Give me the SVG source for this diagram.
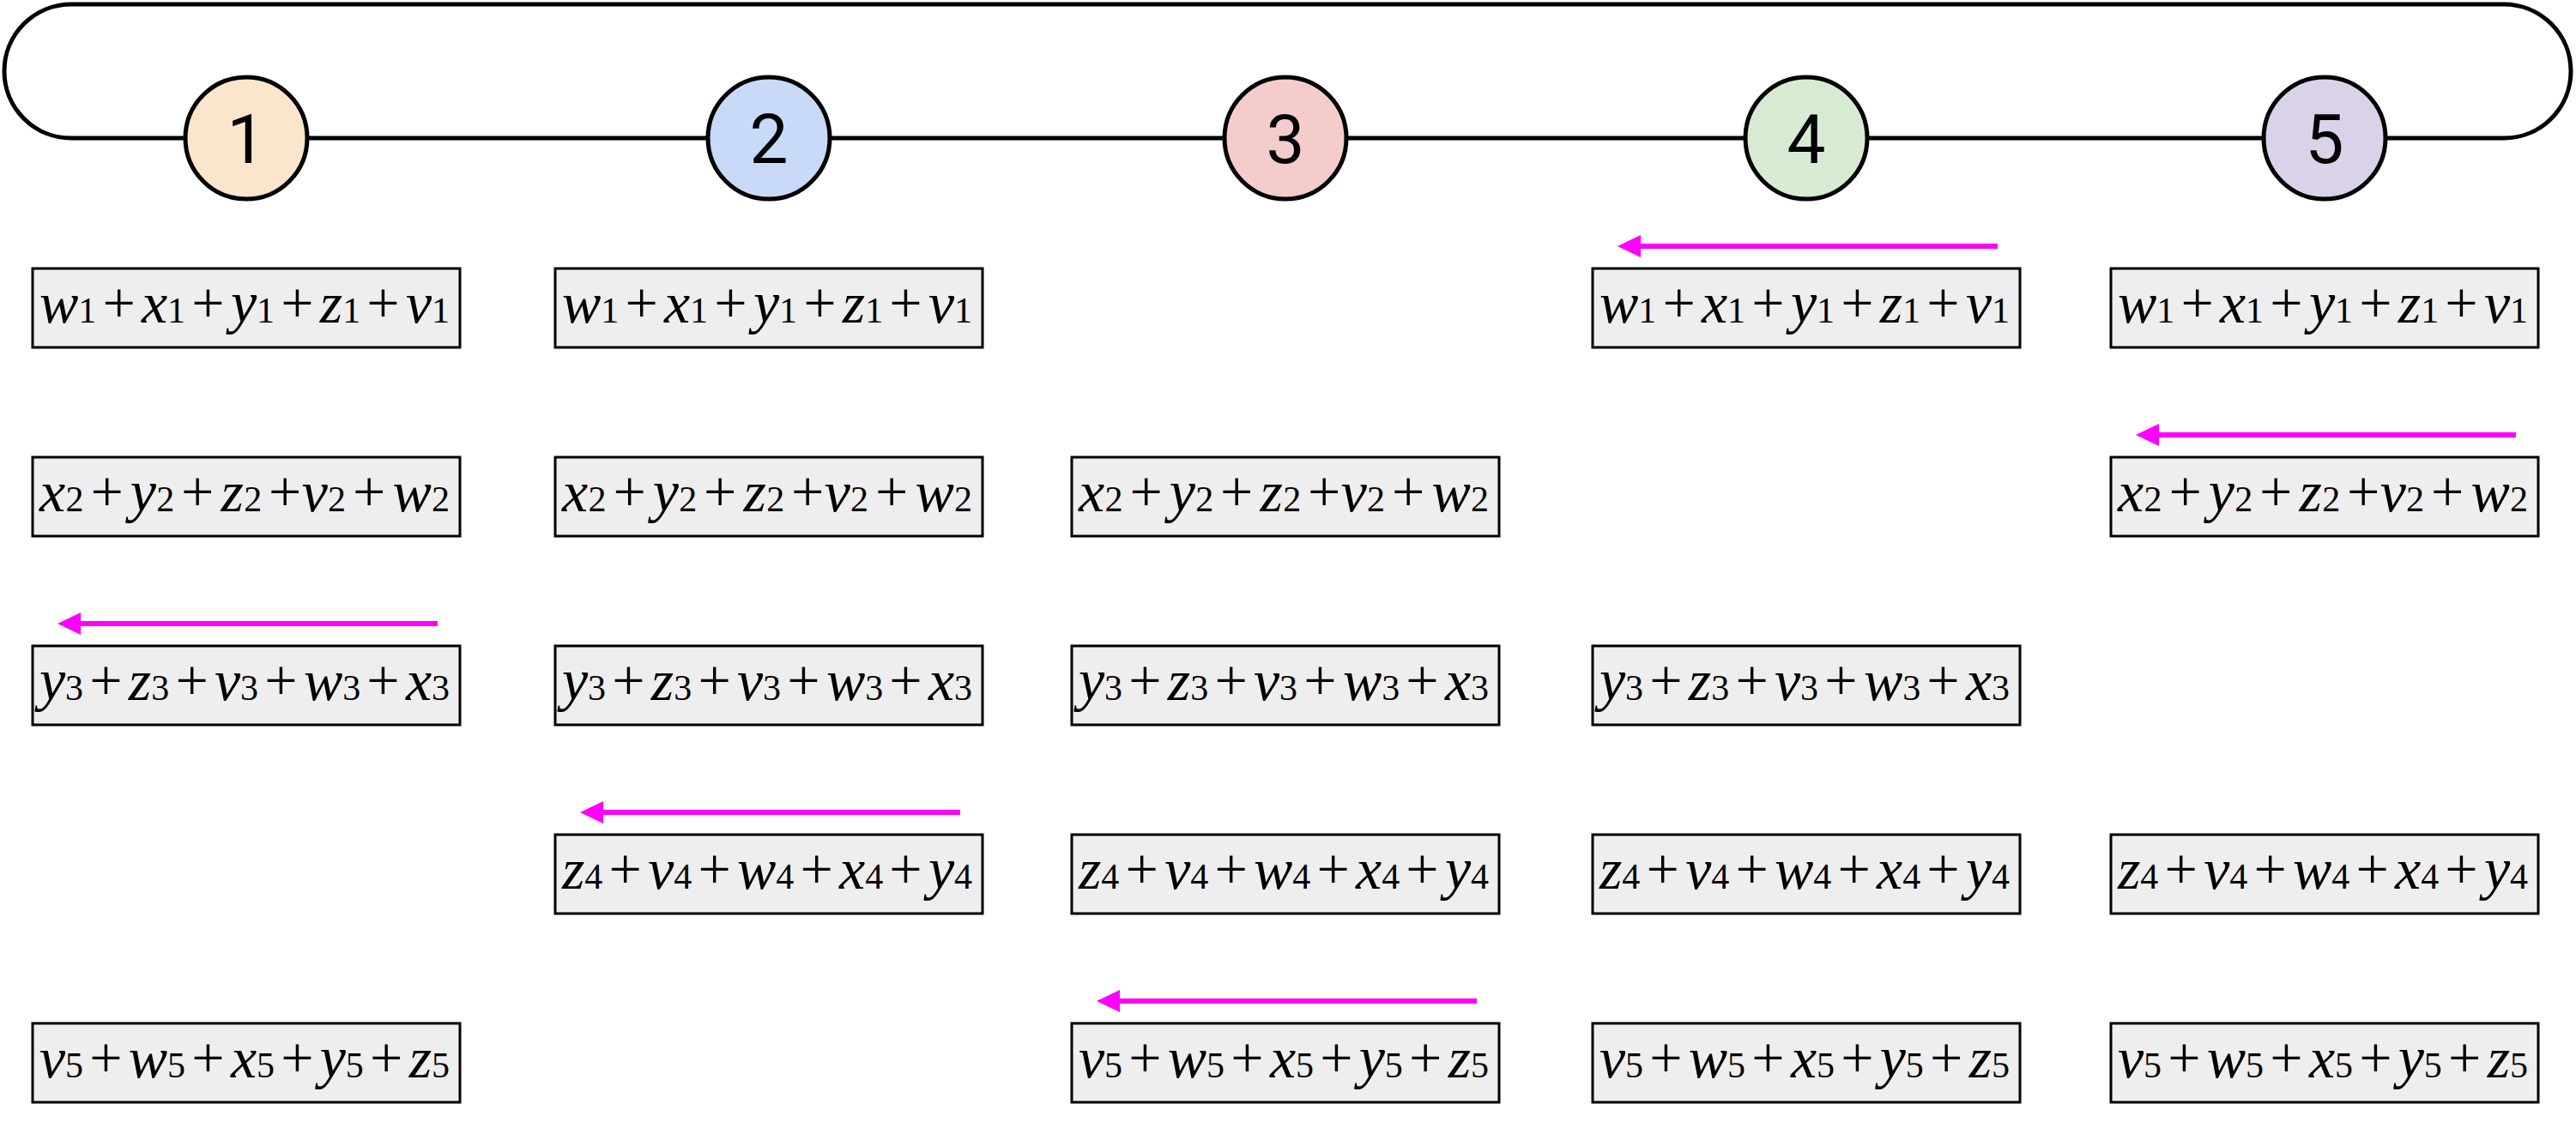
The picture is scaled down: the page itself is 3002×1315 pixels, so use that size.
<svg xmlns="http://www.w3.org/2000/svg" width="3002" height="1315" viewBox="0 0 3002 1315">
<style>
.loop{fill:none;stroke:#000;stroke-width:5}
.node circle{stroke:#000;stroke-width:5}
.node text{font-family:Roboto,"Liberation Sans",sans-serif;font-size:80px;text-anchor:middle;fill:#000}
.box rect{fill:#eeeeee;stroke:#000;stroke-width:3}
.eq{font-family:"Liberation Serif","Times New Roman",serif;font-size:68px;font-style:normal;fill:#000}
.v{font-style:italic}
.s{font-size:42px}
.g{font-size:30px}
.arrow{stroke:#ff00ff;stroke-width:6;fill:none;marker-end:url(#ah)}
</style>
<defs>
<marker id="ah" markerUnits="userSpaceOnUse" markerWidth="28" markerHeight="28" viewBox="0 0 28 28" refX="0" refY="13" orient="auto">
<path d="M0,0 L27,13 L0,26 Z" fill="#ff00ff"/>
</marker>
</defs>
<rect width="3002" height="1315" fill="#fff"/>
<g id="connectors">
<path class="loop" d="M83,5 H2918 A78,78 0 0 1 2918,161 H83 A78,78 0 0 1 83,5 Z"/>
<line class="arrow" x1="2328" y1="287" x2="1912" y2="287"/>
<line class="arrow" x1="2932" y1="507" x2="2516" y2="507"/>
<line class="arrow" x1="510" y1="727" x2="94" y2="727"/>
<line class="arrow" x1="1119" y1="947" x2="703" y2="947"/>
<line class="arrow" x1="1721" y1="1167" x2="1305" y2="1167"/>
</g>
<g id="node1" class="node"><circle cx="287" cy="161" r="71" fill="#fce5cd"/><text x="287" y="190">1</text></g>
<g id="node2" class="node"><circle cx="896" cy="161" r="71" fill="#c9daf8"/><text x="896" y="190">2</text></g>
<g id="node3" class="node"><circle cx="1498" cy="161" r="71" fill="#f4cccc"/><text x="1498" y="190">3</text></g>
<g id="node4" class="node"><circle cx="2105" cy="161" r="71" fill="#d9ead3"/><text x="2105" y="190">4</text></g>
<g id="node5" class="node"><circle cx="2709" cy="161" r="71" fill="#d9d2e9"/><text x="2709" y="190">5</text></g>

<g id="r1c1" class="box"><rect x="38" y="313" width="498" height="92"/><text class="eq" x="46" y="376" textLength="478" lengthAdjust="spacing"><tspan class="v">w</tspan><tspan class="s">1</tspan><tspan class="g"> </tspan>+<tspan class="g"> </tspan><tspan class="v">x</tspan><tspan class="s">1</tspan><tspan class="g"> </tspan>+<tspan class="g"> </tspan><tspan class="v">y</tspan><tspan class="s">1</tspan><tspan class="g"> </tspan>+<tspan class="g"> </tspan><tspan class="v">z</tspan><tspan class="s">1</tspan><tspan class="g"> </tspan>+<tspan class="g"> </tspan><tspan class="v">v</tspan><tspan class="s">1</tspan></text></g>
<g id="r1c2" class="box"><rect x="647" y="313" width="498" height="92"/><text class="eq" x="655" y="376" textLength="478" lengthAdjust="spacing"><tspan class="v">w</tspan><tspan class="s">1</tspan><tspan class="g"> </tspan>+<tspan class="g"> </tspan><tspan class="v">x</tspan><tspan class="s">1</tspan><tspan class="g"> </tspan>+<tspan class="g"> </tspan><tspan class="v">y</tspan><tspan class="s">1</tspan><tspan class="g"> </tspan>+<tspan class="g"> </tspan><tspan class="v">z</tspan><tspan class="s">1</tspan><tspan class="g"> </tspan>+<tspan class="g"> </tspan><tspan class="v">v</tspan><tspan class="s">1</tspan></text></g>
<g id="r1c4" class="box"><rect x="1856" y="313" width="498" height="92"/><text class="eq" x="1864" y="376" textLength="478" lengthAdjust="spacing"><tspan class="v">w</tspan><tspan class="s">1</tspan><tspan class="g"> </tspan>+<tspan class="g"> </tspan><tspan class="v">x</tspan><tspan class="s">1</tspan><tspan class="g"> </tspan>+<tspan class="g"> </tspan><tspan class="v">y</tspan><tspan class="s">1</tspan><tspan class="g"> </tspan>+<tspan class="g"> </tspan><tspan class="v">z</tspan><tspan class="s">1</tspan><tspan class="g"> </tspan>+<tspan class="g"> </tspan><tspan class="v">v</tspan><tspan class="s">1</tspan></text></g>
<g id="r1c5" class="box"><rect x="2460" y="313" width="498" height="92"/><text class="eq" x="2468" y="376" textLength="478" lengthAdjust="spacing"><tspan class="v">w</tspan><tspan class="s">1</tspan><tspan class="g"> </tspan>+<tspan class="g"> </tspan><tspan class="v">x</tspan><tspan class="s">1</tspan><tspan class="g"> </tspan>+<tspan class="g"> </tspan><tspan class="v">y</tspan><tspan class="s">1</tspan><tspan class="g"> </tspan>+<tspan class="g"> </tspan><tspan class="v">z</tspan><tspan class="s">1</tspan><tspan class="g"> </tspan>+<tspan class="g"> </tspan><tspan class="v">v</tspan><tspan class="s">1</tspan></text></g>

<g id="r2c1" class="box"><rect x="38" y="533" width="498" height="92"/><text class="eq" x="46" y="596" textLength="478" lengthAdjust="spacing"><tspan class="v">x</tspan><tspan class="s">2</tspan><tspan class="g"> </tspan>+<tspan class="g"> </tspan><tspan class="v">y</tspan><tspan class="s">2</tspan><tspan class="g"> </tspan>+<tspan class="g"> </tspan><tspan class="v">z</tspan><tspan class="s">2</tspan><tspan class="g"> </tspan>+<tspan class="v">v</tspan><tspan class="s">2</tspan><tspan class="g"> </tspan>+<tspan class="g"> </tspan><tspan class="v">w</tspan><tspan class="s">2</tspan></text></g>
<g id="r2c2" class="box"><rect x="647" y="533" width="498" height="92"/><text class="eq" x="655" y="596" textLength="478" lengthAdjust="spacing"><tspan class="v">x</tspan><tspan class="s">2</tspan><tspan class="g"> </tspan>+<tspan class="g"> </tspan><tspan class="v">y</tspan><tspan class="s">2</tspan><tspan class="g"> </tspan>+<tspan class="g"> </tspan><tspan class="v">z</tspan><tspan class="s">2</tspan><tspan class="g"> </tspan>+<tspan class="v">v</tspan><tspan class="s">2</tspan><tspan class="g"> </tspan>+<tspan class="g"> </tspan><tspan class="v">w</tspan><tspan class="s">2</tspan></text></g>
<g id="r2c3" class="box"><rect x="1249" y="533" width="498" height="92"/><text class="eq" x="1257" y="596" textLength="478" lengthAdjust="spacing"><tspan class="v">x</tspan><tspan class="s">2</tspan><tspan class="g"> </tspan>+<tspan class="g"> </tspan><tspan class="v">y</tspan><tspan class="s">2</tspan><tspan class="g"> </tspan>+<tspan class="g"> </tspan><tspan class="v">z</tspan><tspan class="s">2</tspan><tspan class="g"> </tspan>+<tspan class="v">v</tspan><tspan class="s">2</tspan><tspan class="g"> </tspan>+<tspan class="g"> </tspan><tspan class="v">w</tspan><tspan class="s">2</tspan></text></g>
<g id="r2c5" class="box"><rect x="2460" y="533" width="498" height="92"/><text class="eq" x="2468" y="596" textLength="478" lengthAdjust="spacing"><tspan class="v">x</tspan><tspan class="s">2</tspan><tspan class="g"> </tspan>+<tspan class="g"> </tspan><tspan class="v">y</tspan><tspan class="s">2</tspan><tspan class="g"> </tspan>+<tspan class="g"> </tspan><tspan class="v">z</tspan><tspan class="s">2</tspan><tspan class="g"> </tspan>+<tspan class="v">v</tspan><tspan class="s">2</tspan><tspan class="g"> </tspan>+<tspan class="g"> </tspan><tspan class="v">w</tspan><tspan class="s">2</tspan></text></g>

<g id="r3c1" class="box"><rect x="38" y="753" width="498" height="92"/><text class="eq" x="46" y="816" textLength="478" lengthAdjust="spacing"><tspan class="v">y</tspan><tspan class="s">3</tspan><tspan class="g"> </tspan>+<tspan class="g"> </tspan><tspan class="v">z</tspan><tspan class="s">3</tspan><tspan class="g"> </tspan>+<tspan class="g"> </tspan><tspan class="v">v</tspan><tspan class="s">3</tspan><tspan class="g"> </tspan>+<tspan class="g"> </tspan><tspan class="v">w</tspan><tspan class="s">3</tspan><tspan class="g"> </tspan>+<tspan class="g"> </tspan><tspan class="v">x</tspan><tspan class="s">3</tspan></text></g>
<g id="r3c2" class="box"><rect x="647" y="753" width="498" height="92"/><text class="eq" x="655" y="816" textLength="478" lengthAdjust="spacing"><tspan class="v">y</tspan><tspan class="s">3</tspan><tspan class="g"> </tspan>+<tspan class="g"> </tspan><tspan class="v">z</tspan><tspan class="s">3</tspan><tspan class="g"> </tspan>+<tspan class="g"> </tspan><tspan class="v">v</tspan><tspan class="s">3</tspan><tspan class="g"> </tspan>+<tspan class="g"> </tspan><tspan class="v">w</tspan><tspan class="s">3</tspan><tspan class="g"> </tspan>+<tspan class="g"> </tspan><tspan class="v">x</tspan><tspan class="s">3</tspan></text></g>
<g id="r3c3" class="box"><rect x="1249" y="753" width="498" height="92"/><text class="eq" x="1257" y="816" textLength="478" lengthAdjust="spacing"><tspan class="v">y</tspan><tspan class="s">3</tspan><tspan class="g"> </tspan>+<tspan class="g"> </tspan><tspan class="v">z</tspan><tspan class="s">3</tspan><tspan class="g"> </tspan>+<tspan class="g"> </tspan><tspan class="v">v</tspan><tspan class="s">3</tspan><tspan class="g"> </tspan>+<tspan class="g"> </tspan><tspan class="v">w</tspan><tspan class="s">3</tspan><tspan class="g"> </tspan>+<tspan class="g"> </tspan><tspan class="v">x</tspan><tspan class="s">3</tspan></text></g>
<g id="r3c4" class="box"><rect x="1856" y="753" width="498" height="92"/><text class="eq" x="1864" y="816" textLength="478" lengthAdjust="spacing"><tspan class="v">y</tspan><tspan class="s">3</tspan><tspan class="g"> </tspan>+<tspan class="g"> </tspan><tspan class="v">z</tspan><tspan class="s">3</tspan><tspan class="g"> </tspan>+<tspan class="g"> </tspan><tspan class="v">v</tspan><tspan class="s">3</tspan><tspan class="g"> </tspan>+<tspan class="g"> </tspan><tspan class="v">w</tspan><tspan class="s">3</tspan><tspan class="g"> </tspan>+<tspan class="g"> </tspan><tspan class="v">x</tspan><tspan class="s">3</tspan></text></g>

<g id="r4c2" class="box"><rect x="647" y="973" width="498" height="92"/><text class="eq" x="655" y="1036" textLength="478" lengthAdjust="spacing"><tspan class="v">z</tspan><tspan class="s">4</tspan><tspan class="g"> </tspan>+<tspan class="g"> </tspan><tspan class="v">v</tspan><tspan class="s">4</tspan><tspan class="g"> </tspan>+<tspan class="g"> </tspan><tspan class="v">w</tspan><tspan class="s">4</tspan><tspan class="g"> </tspan>+<tspan class="g"> </tspan><tspan class="v">x</tspan><tspan class="s">4</tspan><tspan class="g"> </tspan>+<tspan class="g"> </tspan><tspan class="v">y</tspan><tspan class="s">4</tspan></text></g>
<g id="r4c3" class="box"><rect x="1249" y="973" width="498" height="92"/><text class="eq" x="1257" y="1036" textLength="478" lengthAdjust="spacing"><tspan class="v">z</tspan><tspan class="s">4</tspan><tspan class="g"> </tspan>+<tspan class="g"> </tspan><tspan class="v">v</tspan><tspan class="s">4</tspan><tspan class="g"> </tspan>+<tspan class="g"> </tspan><tspan class="v">w</tspan><tspan class="s">4</tspan><tspan class="g"> </tspan>+<tspan class="g"> </tspan><tspan class="v">x</tspan><tspan class="s">4</tspan><tspan class="g"> </tspan>+<tspan class="g"> </tspan><tspan class="v">y</tspan><tspan class="s">4</tspan></text></g>
<g id="r4c4" class="box"><rect x="1856" y="973" width="498" height="92"/><text class="eq" x="1864" y="1036" textLength="478" lengthAdjust="spacing"><tspan class="v">z</tspan><tspan class="s">4</tspan><tspan class="g"> </tspan>+<tspan class="g"> </tspan><tspan class="v">v</tspan><tspan class="s">4</tspan><tspan class="g"> </tspan>+<tspan class="g"> </tspan><tspan class="v">w</tspan><tspan class="s">4</tspan><tspan class="g"> </tspan>+<tspan class="g"> </tspan><tspan class="v">x</tspan><tspan class="s">4</tspan><tspan class="g"> </tspan>+<tspan class="g"> </tspan><tspan class="v">y</tspan><tspan class="s">4</tspan></text></g>
<g id="r4c5" class="box"><rect x="2460" y="973" width="498" height="92"/><text class="eq" x="2468" y="1036" textLength="478" lengthAdjust="spacing"><tspan class="v">z</tspan><tspan class="s">4</tspan><tspan class="g"> </tspan>+<tspan class="g"> </tspan><tspan class="v">v</tspan><tspan class="s">4</tspan><tspan class="g"> </tspan>+<tspan class="g"> </tspan><tspan class="v">w</tspan><tspan class="s">4</tspan><tspan class="g"> </tspan>+<tspan class="g"> </tspan><tspan class="v">x</tspan><tspan class="s">4</tspan><tspan class="g"> </tspan>+<tspan class="g"> </tspan><tspan class="v">y</tspan><tspan class="s">4</tspan></text></g>

<g id="r5c1" class="box"><rect x="38" y="1193" width="498" height="92"/><text class="eq" x="46" y="1256" textLength="478" lengthAdjust="spacing"><tspan class="v">v</tspan><tspan class="s">5</tspan><tspan class="g"> </tspan>+<tspan class="g"> </tspan><tspan class="v">w</tspan><tspan class="s">5</tspan><tspan class="g"> </tspan>+<tspan class="g"> </tspan><tspan class="v">x</tspan><tspan class="s">5</tspan><tspan class="g"> </tspan>+<tspan class="g"> </tspan><tspan class="v">y</tspan><tspan class="s">5</tspan><tspan class="g"> </tspan>+<tspan class="g"> </tspan><tspan class="v">z</tspan><tspan class="s">5</tspan></text></g>
<g id="r5c3" class="box"><rect x="1249" y="1193" width="498" height="92"/><text class="eq" x="1257" y="1256" textLength="478" lengthAdjust="spacing"><tspan class="v">v</tspan><tspan class="s">5</tspan><tspan class="g"> </tspan>+<tspan class="g"> </tspan><tspan class="v">w</tspan><tspan class="s">5</tspan><tspan class="g"> </tspan>+<tspan class="g"> </tspan><tspan class="v">x</tspan><tspan class="s">5</tspan><tspan class="g"> </tspan>+<tspan class="g"> </tspan><tspan class="v">y</tspan><tspan class="s">5</tspan><tspan class="g"> </tspan>+<tspan class="g"> </tspan><tspan class="v">z</tspan><tspan class="s">5</tspan></text></g>
<g id="r5c4" class="box"><rect x="1856" y="1193" width="498" height="92"/><text class="eq" x="1864" y="1256" textLength="478" lengthAdjust="spacing"><tspan class="v">v</tspan><tspan class="s">5</tspan><tspan class="g"> </tspan>+<tspan class="g"> </tspan><tspan class="v">w</tspan><tspan class="s">5</tspan><tspan class="g"> </tspan>+<tspan class="g"> </tspan><tspan class="v">x</tspan><tspan class="s">5</tspan><tspan class="g"> </tspan>+<tspan class="g"> </tspan><tspan class="v">y</tspan><tspan class="s">5</tspan><tspan class="g"> </tspan>+<tspan class="g"> </tspan><tspan class="v">z</tspan><tspan class="s">5</tspan></text></g>
<g id="r5c5" class="box"><rect x="2460" y="1193" width="498" height="92"/><text class="eq" x="2468" y="1256" textLength="478" lengthAdjust="spacing"><tspan class="v">v</tspan><tspan class="s">5</tspan><tspan class="g"> </tspan>+<tspan class="g"> </tspan><tspan class="v">w</tspan><tspan class="s">5</tspan><tspan class="g"> </tspan>+<tspan class="g"> </tspan><tspan class="v">x</tspan><tspan class="s">5</tspan><tspan class="g"> </tspan>+<tspan class="g"> </tspan><tspan class="v">y</tspan><tspan class="s">5</tspan><tspan class="g"> </tspan>+<tspan class="g"> </tspan><tspan class="v">z</tspan><tspan class="s">5</tspan></text></g>
</svg>
